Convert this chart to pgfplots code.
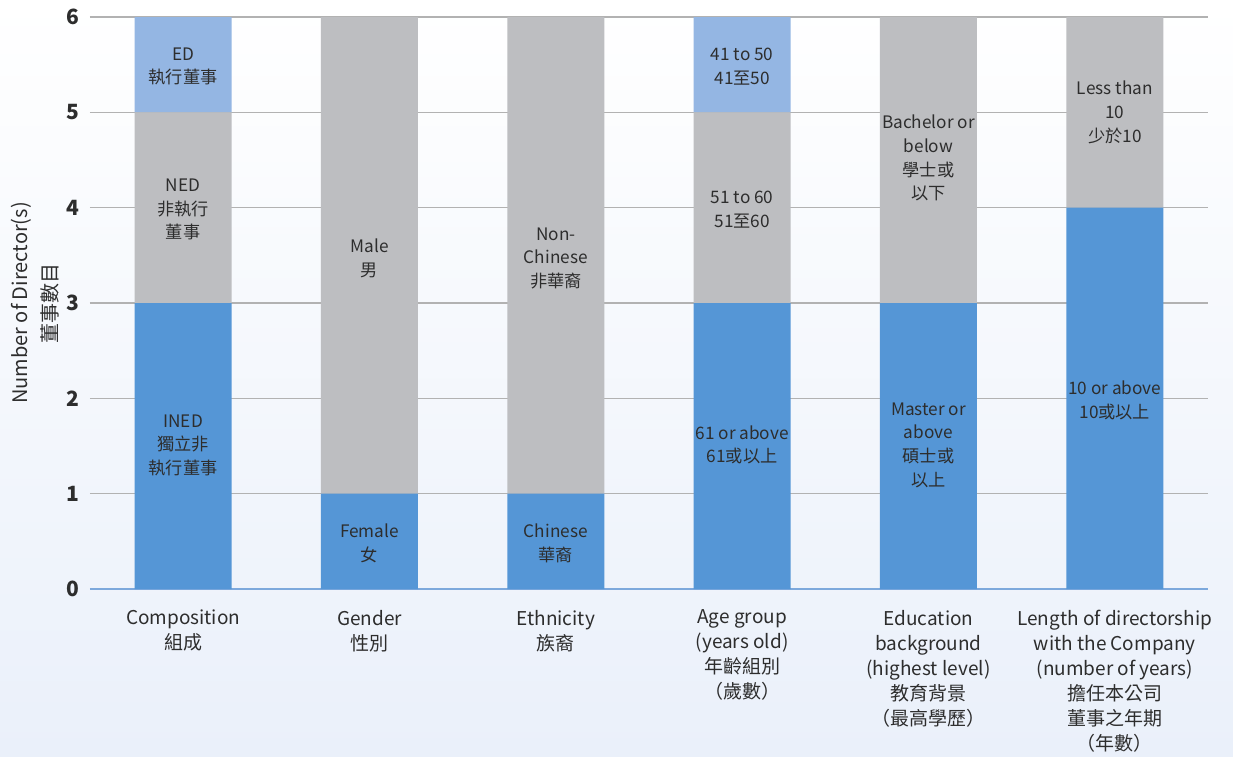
\documentclass[border=0pt]{standalone}
\usepackage{fontspec}
\setmainfont{Noto Sans CJK TC}
\usepackage{pgfplots}
\usepackage{pgfplotstable}
\pgfplotsset{compat=1.18}
\definecolor{dblue}{RGB}{85,150,214}
\definecolor{lblue}{RGB}{148,182,227}
\definecolor{bgray}{RGB}{189,190,193}
\definecolor{zline}{RGB}{125,168,220}
\definecolor{bgb}{RGB}{234,240,250}
\definecolor{txt}{RGB}{45,45,45}
\pgfplotstableread{
x blue gray light
0 3 2 1
1 1 5 0
2 1 5 0
3 3 2 1
4 3 3 0
5 4 2 0
}\data
\tikzset{lab/.style={align=center, font=\fontsize{8.6}{11.8}\selectfont, text=txt}}
\begin{document}
\begin{tikzpicture}
\useasboundingbox (-45pt,-83.5pt) rectangle (571.5pt,294.5pt);
\shade[top color=white, middle color=white, bottom color=bgb] (-45pt,-83.5pt) rectangle (571.5pt,294.5pt);
\begin{axis}[
  at={(0,0)}, anchor=south west,
  scale only axis, width=559pt, height=286pt,
  ybar stacked, bar width=48.5pt,
  xmin=-0.5, xmax=5.5, ymin=0, ymax=6,
  axis line style={draw=none},
  tick style={draw=none},
  ytick={1,2,3,4,5,6},
  extra y ticks={0},
  extra y tick style={major grid style={color=zline, line width=1.1pt}},
  ymajorgrids,
  grid style={color=black!30, line width=0.6pt},
  /pgf/number format/assume math mode=true,
  yticklabel style={font=\fontsize{10.5}{12}\selectfont\bfseries, text=txt, xshift=-2pt},
  xtick={0,1,2,3,4,5},
  xticklabels={{Composition\\組成},{Gender\\性別},{Ethnicity\\族裔},{Age group\\(years old)\\年齡組別\\（歲數）},{Education\\background\\(highest level)\\教育背景\\（最高學歷）},{Length of directorship\\with the Company\\(number of years)\\擔任本公司\\董事之年期\\（年數）}},
  xticklabel style={align=center, font=\fontsize{9.5}{12.5}\selectfont, text=txt, anchor=north, yshift=-7pt},
  ylabel={Number of Director(s)\\董事數目},
  ylabel style={align=center, font=\fontsize{10}{15}\selectfont, text=txt, at={(axis description cs:-0.049,0.5)}, anchor=center},
  clip=false,
]
\addplot[fill=dblue, draw=none] table[x=x, y=blue] {\data};
\addplot[fill=bgray, draw=none] table[x=x, y=gray] {\data};
\addplot[fill=lblue, draw=none] table[x=x, y=light] {\data};
\coordinate (a1) at (axis cs:0,5.48);
\coordinate (a2) at (axis cs:0,3.98);
\coordinate (a3) at (axis cs:0,1.51);
\coordinate (b1) at (axis cs:1,3.47);
\coordinate (b2) at (axis cs:1,0.48);
\coordinate (c1) at (axis cs:2,3.47);
\coordinate (c2) at (axis cs:2,0.48);
\coordinate (d1) at (axis cs:3,5.48);
\coordinate (d2) at (axis cs:3,3.98);
\coordinate (d3) at (axis cs:3,1.51);
\coordinate (e1) at (axis cs:4,4.52);
\coordinate (e2) at (axis cs:4,1.51);
\coordinate (f1) at (axis cs:5,5.00);
\coordinate (f2) at (axis cs:5,1.98);
\end{axis}
\node[lab] at (a1) {ED\\執行董事};
\node[lab] at (a2) {NED\\非執行\\董事};
\node[lab] at (a3) {INED\\獨立非\\執行董事};
\node[lab] at (b1) {Male\\男};
\node[lab] at (b2) {Female\\女};
\node[lab] at (c1) {Non-\\Chinese\\非華裔};
\node[lab] at (c2) {Chinese\\華裔};
\node[lab] at (d1) {41 to 50\\41至50};
\node[lab] at (d2) {51 to 60\\51至60};
\node[lab] at (d3) {61 or above\\61或以上};
\node[lab] at (e1) {Bachelor or\\below\\學士或\\以下};
\node[lab] at (e2) {Master or\\above\\碩士或\\以上};
\node[lab] at (f1) {Less than\\10\\少於10};
\node[lab] at (f2) {10 or above\\10或以上};
\end{tikzpicture}
\end{document}
